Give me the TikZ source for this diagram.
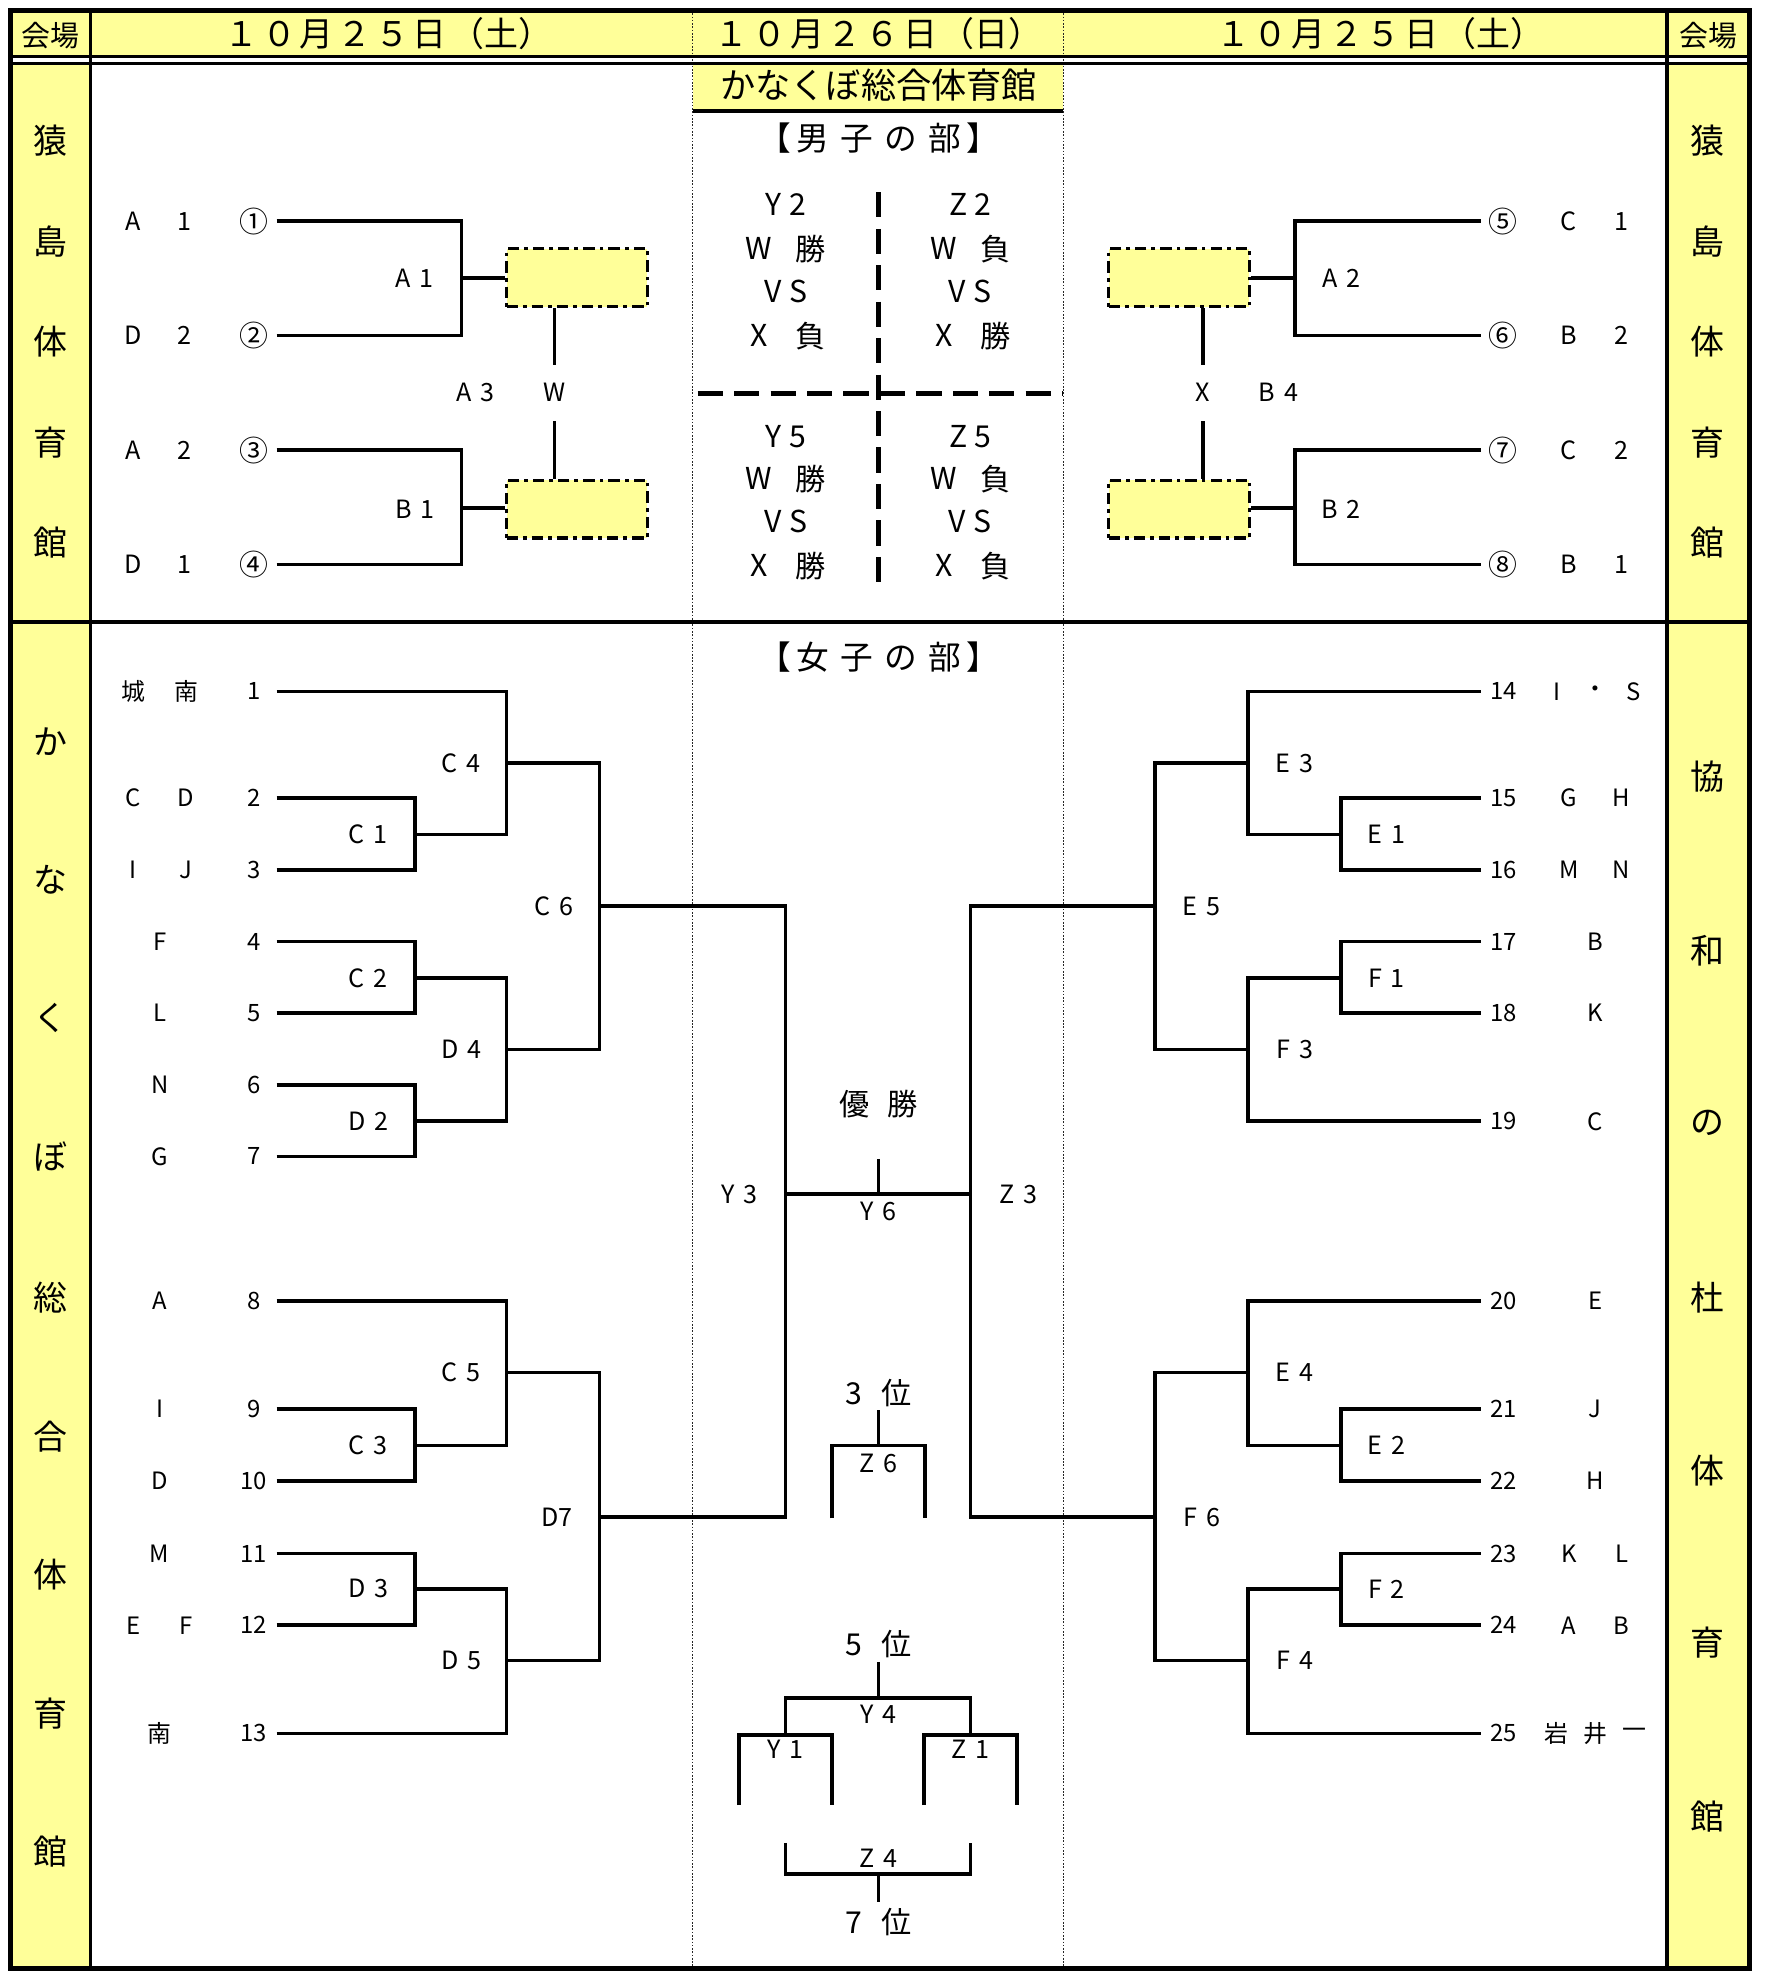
\documentclass[tikz,border=0pt]{standalone}
\usepackage{fontspec}
\setmainfont{Noto Sans CJK JP}
\definecolor{lightyel}{RGB}{255,255,153}
\begin{document}
\begin{tikzpicture}[x=1pt,y=-1pt,
  brk/.style={line width=2.9pt},
  lab/.style={inner sep=0pt,font=\fontsize{20}{20}\selectfont},
  circ/.style={inner sep=0pt,font=\fontsize{23}{23}\selectfont},
  nm/.style={inner sep=0pt,font=\fontsize{19}{19}\selectfont},
  cen/.style={inner sep=0pt,font=\fontsize{24}{24}\selectfont},
  ven/.style={inner sep=0pt,font=\fontsize{27}{27}\selectfont},
  hdr/.style={inner sep=0pt,font=\fontsize{27}{27}\selectfont},
  small/.style={inner sep=0pt,font=\fontsize{23}{23}\selectfont},
  bx/.style={draw,fill=lightyel,line width=2.4pt,dash pattern=on 9pt off 4pt on 3pt off 4pt,minimum width=112pt,minimum height=46pt,inner sep=0pt},
  dotv/.style={line width=1.3pt,dash pattern=on 1.3pt off 1.3pt,black!85},
  thickdash/.style={line width=4pt,dash pattern=on 20pt off 9pt}
]
\useasboundingbox (0,0) rectangle (1404,1572);
% ---------- fills ----------
\fill[lightyel] (8,8) rectangle (1392,45);
\fill[lightyel] (8,50) rectangle (72,1566);
\fill[lightyel] (1326,50) rectangle (1392,1566);
\fill[lightyel] (551,50) rectangle (846,88);
% ---------- dotted column lines ----------
\draw[dotv] (551,8) -- (551,1566);
\draw[dotv] (846,8) -- (846,1566);
% ---------- frame ----------
\draw[line width=2.5pt] (8,45) -- (1392,45);
\draw[line width=1.8pt] (8,50.5) -- (1392,50.5);
\draw[line width=3pt] (72,8) -- (72,1566);
\draw[line width=3pt] (1326,8) -- (1326,1566);
\draw[line width=3pt] (8,495) -- (1392,495);
\draw[line width=3pt] (551,88) -- (846,88);
\draw[line width=4pt] (8,8) rectangle (1392,1566);
% ---------- header ----------
\node[small] (kaijoL) at (40,28) {会場};
\node[small] (kaijoR) at (1359,28) {会場};
\node[hdr] (date1) at (309,27) {１\hspace{3pt}０\hspace{3pt}月\hspace{3pt}２\hspace{3pt}５\hspace{3pt}日\hspace{3pt}（土）};
\node[hdr] (date2) at (699,27) {１\hspace{3pt}０\hspace{3pt}月\hspace{3pt}２\hspace{3pt}６\hspace{3pt}日\hspace{3pt}（日）};
\node[hdr] (date3) at (1098,27) {１\hspace{3pt}０\hspace{3pt}月\hspace{3pt}２\hspace{3pt}５\hspace{3pt}日\hspace{3pt}（土）};
\node[font=\fontsize{28}{28}\selectfont,inner sep=0pt] (kanakubo) at (699,68) {かなくぼ総合体育館};
% ---------- venue columns ----------
\foreach \c/\yy [count=\i] in {猿/112,島/192,体/272,育/352,館/432}{
  \node[ven] (vl\i) at (40,\yy) {\c};
  \node[ven] (vr\i) at (1358,\yy) {\c};
}
\foreach \c/\yy [count=\i] in {か/590,な/700,く/810,ぼ/920,総/1032,合/1143,体/1253,育/1363,館/1473}{
  \node[ven] (vk\i) at (40,\yy) {\c};
}
\foreach \c/\yy [count=\i] in {協/618,和/756,の/893,杜/1032,体/1170,育/1307,館/1445}{
  \node[ven] (vw\i) at (1358,\yy) {\c};
}
% ================= MALE =================
\node[font=\fontsize{26}{26}\selectfont,inner sep=0pt] (mtitle) at (699,110) {【\hspace{4pt}男\hspace{9pt}子\hspace{9pt}の\hspace{9pt}部\hspace{4pt}】};
% left leaves
\foreach \lt/\dg/\cc/\yy [count=\i] in {A/1/①/176,D/2/②/267,A/2/③/358,D/1/④/449}{
  \node[lab] (mlt\i) at (106,\yy) {\lt};
  \node[lab] (mdg\i) at (147,\yy) {\dg};
  \node[circ] (mcc\i) at (202,\yy) {\cc};
  \coordinate (M\i) at (220,\yy);
}
\foreach \lt/\dg/\cc/\yy [count=\i from 5] in {C/1/⑤/176,B/2/⑥/267,C/2/⑦/358,B/1/⑧/449}{
  \node[circ] (mcc\i) at (1196,\yy) {\cc};
  \node[lab] (mlt\i) at (1248,\yy) {\lt};
  \node[lab] (mdg\i) at (1290,\yy) {\dg};
  \coordinate (M\i) at (1178,\yy);
}
\coordinate (A1j) at (367,221);
\coordinate (B1j) at (367,404);
\coordinate (A2j) at (1030,221);
\coordinate (B2j) at (1030,404);
\node[bx] (boxL1) at (459,221) {};
\node[bx] (boxL2) at (459,405) {};
\node[bx] (boxR1) at (938,221) {};
\node[bx] (boxR2) at (938,405) {};
\draw[brk] (M1) -| (A1j); \draw[brk] (M2) -| (A1j); \draw[brk] (A1j) -- (boxL1.west|-A1j);
\draw[brk] (M3) -| (B1j); \draw[brk] (M4) -| (B1j); \draw[brk] (B1j) -- (boxL2.west|-B1j);
\draw[brk] (M5) -| (A2j); \draw[brk] (M6) -| (A2j); \draw[brk] (A2j) -- (boxR1.east|-A2j);
\draw[brk] (M7) -| (B2j); \draw[brk] (M8) -| (B2j); \draw[brk] (B2j) -- (boxR2.east|-B2j);
\node[lab] (lA1) at (330,221) {A\hspace{7pt}1};
\node[lab] (lB1) at (330,405) {B\hspace{7pt}1};
\node[lab] (lA2) at (1067,221) {A\hspace{7pt}2};
\node[lab] (lB2) at (1067,405) {B\hspace{7pt}2};
\node[lab] (lA3) at (378,312) {A\hspace{7pt}3};
\node[lab] (lW) at (441,312) {W};
\node[lab] (lX) at (957,312) {X};
\node[lab] (lB4) at (1017,312) {B\hspace{7pt}4};
\coordinate (Wt) at (441,290);
\coordinate (Wb) at (441,335);
\coordinate (Xt) at (957,290);
\coordinate (Xb) at (957,335);
\draw[brk] (boxL1.south-|Wt) -- (Wt);
\draw[brk] (Wb) -- (boxL2.north-|Wb);
\draw[brk] (boxR1.south-|Xt) -- (Xt);
\draw[brk] (Xb) -- (boxR2.north-|Xb);
% center cross
\coordinate (cvT) at (699,153);
\coordinate (cvB) at (699,472);
\coordinate (chL) at (555,313);
\coordinate (chR) at (846,313);
\draw[thickdash] (cvT) -- (cvB);
\draw[thickdash] (chL) -- (chR);
% center texts
\node[cen] (y2) at (625,163) {Y\hspace{6pt}2};
\node[cen] (y2a) at (604,198) {W}; \node[cen] (y2b) at (645,198) {勝};
\node[cen] (y2c) at (625,232) {V\hspace{6pt}S};
\node[cen] (y2d) at (604,267) {X}; \node[cen] (y2e) at (645,267) {負};
\node[cen] (z2) at (772,163) {Z\hspace{6pt}2};
\node[cen] (z2a) at (751,198) {W}; \node[cen] (z2b) at (792,198) {負};
\node[cen] (z2c) at (772,232) {V\hspace{6pt}S};
\node[cen] (z2d) at (751,267) {X}; \node[cen] (z2e) at (792,267) {勝};
\node[cen] (y5) at (625,347) {Y\hspace{6pt}5};
\node[cen] (y5a) at (604,381) {W}; \node[cen] (y5b) at (645,381) {勝};
\node[cen] (y5c) at (625,415) {V\hspace{6pt}S};
\node[cen] (y5d) at (604,450) {X}; \node[cen] (y5e) at (645,450) {勝};
\node[cen] (z5) at (772,347) {Z\hspace{6pt}5};
\node[cen] (z5a) at (751,381) {W}; \node[cen] (z5b) at (792,381) {負};
\node[cen] (z5c) at (772,415) {V\hspace{6pt}S};
\node[cen] (z5d) at (751,450) {X}; \node[cen] (z5e) at (792,450) {負};
% ================= FEMALE =================
\node[font=\fontsize{26}{26}\selectfont,inner sep=0pt] (ftitle) at (699,523) {【\hspace{4pt}女\hspace{9pt}子\hspace{9pt}の\hspace{9pt}部\hspace{4pt}】};
% left leaves
\foreach \n/\yy in {1/550,2/635,3/692,4/749,5/806,6/863,7/920,8/1035,9/1121,10/1178,11/1236,12/1293,13/1379}{
  \node[nm] (num\n) at (202,\yy) {\n};
  \coordinate (L\n) at (220,\yy);
}
\node[nm] (na1) at (106,550) {城}; \node[nm] (nb1) at (148,550) {南};
\node[nm] (na2) at (106,635) {C}; \node[nm] (nb2) at (148,635) {D};
\node[nm] (na3) at (106,692) {I}; \node[nm] (nb3) at (148,692) {J};
\node[nm] (na4) at (127,749) {F};
\node[nm] (na5) at (127,806) {L};
\node[nm] (na6) at (127,863) {N};
\node[nm] (na7) at (127,920) {G};
\node[nm] (na8) at (127,1035) {A};
\node[nm] (na9) at (127,1121) {I};
\node[nm] (na10) at (127,1178) {D};
\node[nm] (na11) at (127,1236) {M};
\node[nm] (na12) at (106,1293) {E}; \node[nm] (nb12) at (148,1293) {F};
\node[nm] (na13) at (127,1379) {南};
% right leaves
\foreach \n/\yy in {14/550,15/635,16/692,17/749,18/806,19/892,20/1035,21/1121,22/1178,23/1236,24/1293,25/1379}{
  \node[nm] (num\n) at (1196,\yy) {\n};
  \coordinate (R\n) at (1178,\yy);
}
\node[nm] (na14) at (1239,550) {I}; \node[nm] (nb14) at (1269,550) {・}; \node[nm] (nc14) at (1300,550) {S};
\node[nm] (na15) at (1248,635) {G}; \node[nm] (nb15) at (1290,635) {H};
\node[nm] (na16) at (1248,692) {M}; \node[nm] (nb16) at (1290,692) {N};
\node[nm] (na17) at (1269,749) {B};
\node[nm] (na18) at (1269,806) {K};
\node[nm] (na19) at (1269,892) {C};
\node[nm] (na20) at (1269,1035) {E};
\node[nm] (na21) at (1269,1121) {J};
\node[nm] (na22) at (1269,1178) {H};
\node[nm] (na23) at (1248,1236) {K}; \node[nm] (nb23) at (1290,1236) {L};
\node[nm] (na24) at (1248,1293) {A}; \node[nm] (nb24) at (1290,1293) {B};
\node[nm] (na25) at (1238,1379) {岩}; \node[nm] (nb25) at (1269,1379) {井}; \node[nm] (nc25) at (1300,1379) {一};
% left junctions
\coordinate (C1) at (330,664);
\coordinate (C4) at (403,607);
\coordinate (C2) at (330,778);
\coordinate (D2) at (330,892);
\coordinate (D4) at (403,835);
\coordinate (C6) at (477,721);
\coordinate (C3) at (330,1150);
\coordinate (C5) at (403,1092);
\coordinate (D3) at (330,1264);
\coordinate (D5) at (403,1321);
\coordinate (D7) at (477,1207);
\coordinate (Y3) at (625,950);
% right junctions
\coordinate (E1) at (1067,664);
\coordinate (E3) at (993,607);
\coordinate (F1) at (1067,778);
\coordinate (F3) at (993,835);
\coordinate (E5) at (919,721);
\coordinate (E2) at (1067,1150);
\coordinate (E4) at (993,1092);
\coordinate (F2) at (1067,1264);
\coordinate (F4) at (993,1321);
\coordinate (F6) at (919,1207);
\coordinate (Z3) at (772,950);
% left bracket lines
\draw[brk] (L2) -| (C1); \draw[brk] (L3) -| (C1);
\draw[brk] (L1) -| (C4); \draw[brk] (C1) -| (C4);
\draw[brk] (L4) -| (C2); \draw[brk] (L5) -| (C2);
\draw[brk] (L6) -| (D2); \draw[brk] (L7) -| (D2);
\draw[brk] (C2) -| (D4); \draw[brk] (D2) -| (D4);
\draw[brk] (C4) -| (C6); \draw[brk] (D4) -| (C6);
\draw[brk] (L9) -| (C3); \draw[brk] (L10) -| (C3);
\draw[brk] (L8) -| (C5); \draw[brk] (C3) -| (C5);
\draw[brk] (L11) -| (D3); \draw[brk] (L12) -| (D3);
\draw[brk] (D3) -| (D5); \draw[brk] (L13) -| (D5);
\draw[brk] (C5) -| (D7); \draw[brk] (D5) -| (D7);
\draw[brk] (C6) -| (Y3); \draw[brk] (D7) -| (Y3);
% right bracket lines
\draw[brk] (R15) -| (E1); \draw[brk] (R16) -| (E1);
\draw[brk] (R14) -| (E3); \draw[brk] (E1) -| (E3);
\draw[brk] (R17) -| (F1); \draw[brk] (R18) -| (F1);
\draw[brk] (F1) -| (F3); \draw[brk] (R19) -| (F3);
\draw[brk] (E3) -| (E5); \draw[brk] (F3) -| (E5);
\draw[brk] (R21) -| (E2); \draw[brk] (R22) -| (E2);
\draw[brk] (R20) -| (E4); \draw[brk] (E2) -| (E4);
\draw[brk] (R23) -| (F2); \draw[brk] (R24) -| (F2);
\draw[brk] (F2) -| (F4); \draw[brk] (R25) -| (F4);
\draw[brk] (E4) -| (F6); \draw[brk] (F4) -| (F6);
\draw[brk] (E5) -| (Z3); \draw[brk] (F6) -| (Z3);
% final
\draw[brk] (Y3) -- (Z3);
% junction labels left
\node[lab] (tC4) at (367,607) {C\hspace{7pt}4};
\node[lab] (tC1) at (293,664) {C\hspace{7pt}1};
\node[lab] (tC6) at (441,721) {C\hspace{7pt}6};
\node[lab] (tC2) at (293,778) {C\hspace{7pt}2};
\node[lab] (tD4) at (367,835) {D\hspace{7pt}4};
\node[lab] (tD2) at (293,892) {D\hspace{7pt}2};
\node[lab] (tC5) at (367,1092) {C\hspace{7pt}5};
\node[lab] (tC3) at (293,1150) {C\hspace{7pt}3};
\node[lab] (tD7) at (443,1207) {D7};
\node[lab] (tD3) at (293,1264) {D\hspace{7pt}3};
\node[lab] (tD5) at (367,1321) {D\hspace{7pt}5};
\node[lab] (tY3) at (588,950) {Y\hspace{7pt}3};
% junction labels right
\node[lab] (tE3) at (1030,607) {E\hspace{7pt}3};
\node[lab] (tE1) at (1103,664) {E\hspace{7pt}1};
\node[lab] (tE5) at (956,721) {E\hspace{7pt}5};
\node[lab] (tF1) at (1103,778) {F\hspace{7pt}1};
\node[lab] (tF3) at (1030,835) {F\hspace{7pt}3};
\node[lab] (tE4) at (1030,1092) {E\hspace{7pt}4};
\node[lab] (tE2) at (1103,1150) {E\hspace{7pt}2};
\node[lab] (tF6) at (956,1207) {F\hspace{7pt}6};
\node[lab] (tF2) at (1103,1264) {F\hspace{7pt}2};
\node[lab] (tF4) at (1030,1321) {F\hspace{7pt}4};
\node[lab] (tZ3) at (810,950) {Z\hspace{7pt}3};
% champion
\node[cen] (yu) at (699,878) {優\hspace{14pt}勝};
\coordinate (Y6t) at (699,922);
\coordinate (Y6) at (699,950);
\draw[brk] (Y6t) -- (Y6);
\node[lab] (tY6) at (699,964) {Y\hspace{7pt}6};
% 3rd place
\node[cen] (p3) at (699,1108) {3\hspace{16pt}位};
\coordinate (Z6t) at (699,1122);
\coordinate (Z6) at (699,1150);
\coordinate (Z6l) at (662,1208);
\coordinate (Z6r) at (736,1208);
\draw[brk] (Z6t) -- (Z6);
\draw[brk] (Z6l) |- (Z6) -| (Z6r);
\node[lab] (tZ6) at (699,1164) {Z\hspace{7pt}6};
% 5th place
\node[cen] (p5) at (699,1308) {5\hspace{16pt}位};
\coordinate (Y4t) at (699,1322);
\coordinate (Y4) at (699,1351);
\coordinate (Y1) at (625,1380);
\coordinate (Z1) at (772,1380);
\coordinate (Y1l) at (588,1436);
\coordinate (Y1r) at (662,1436);
\coordinate (Z1l) at (735,1436);
\coordinate (Z1r) at (809,1436);
\draw[brk] (Y4t) -- (Y4);
\draw[brk] (Y1) |- (Y4) -| (Z1);
\draw[brk] (Y1l) |- (Y1) -| (Y1r);
\draw[brk] (Z1l) |- (Z1) -| (Z1r);
\node[lab] (tY4) at (699,1364) {Y\hspace{7pt}4};
\node[lab] (tY1) at (625,1392) {Y\hspace{7pt}1};
\node[lab] (tZ1) at (772,1392) {Z\hspace{7pt}1};
% 7th place
\coordinate (Z4l) at (625,1466);
\coordinate (Z4r) at (772,1466);
\coordinate (Z4) at (699,1491);
\coordinate (Z4b) at (699,1513);
\draw[brk] (Z4l) |- (Z4) -| (Z4r);
\draw[brk] (Z4) -- (Z4b);
\node[lab] (tZ4) at (699,1478) {Z\hspace{7pt}4};
\node[cen] (p7) at (699,1529) {7\hspace{16pt}位};
\end{tikzpicture}
\end{document}
